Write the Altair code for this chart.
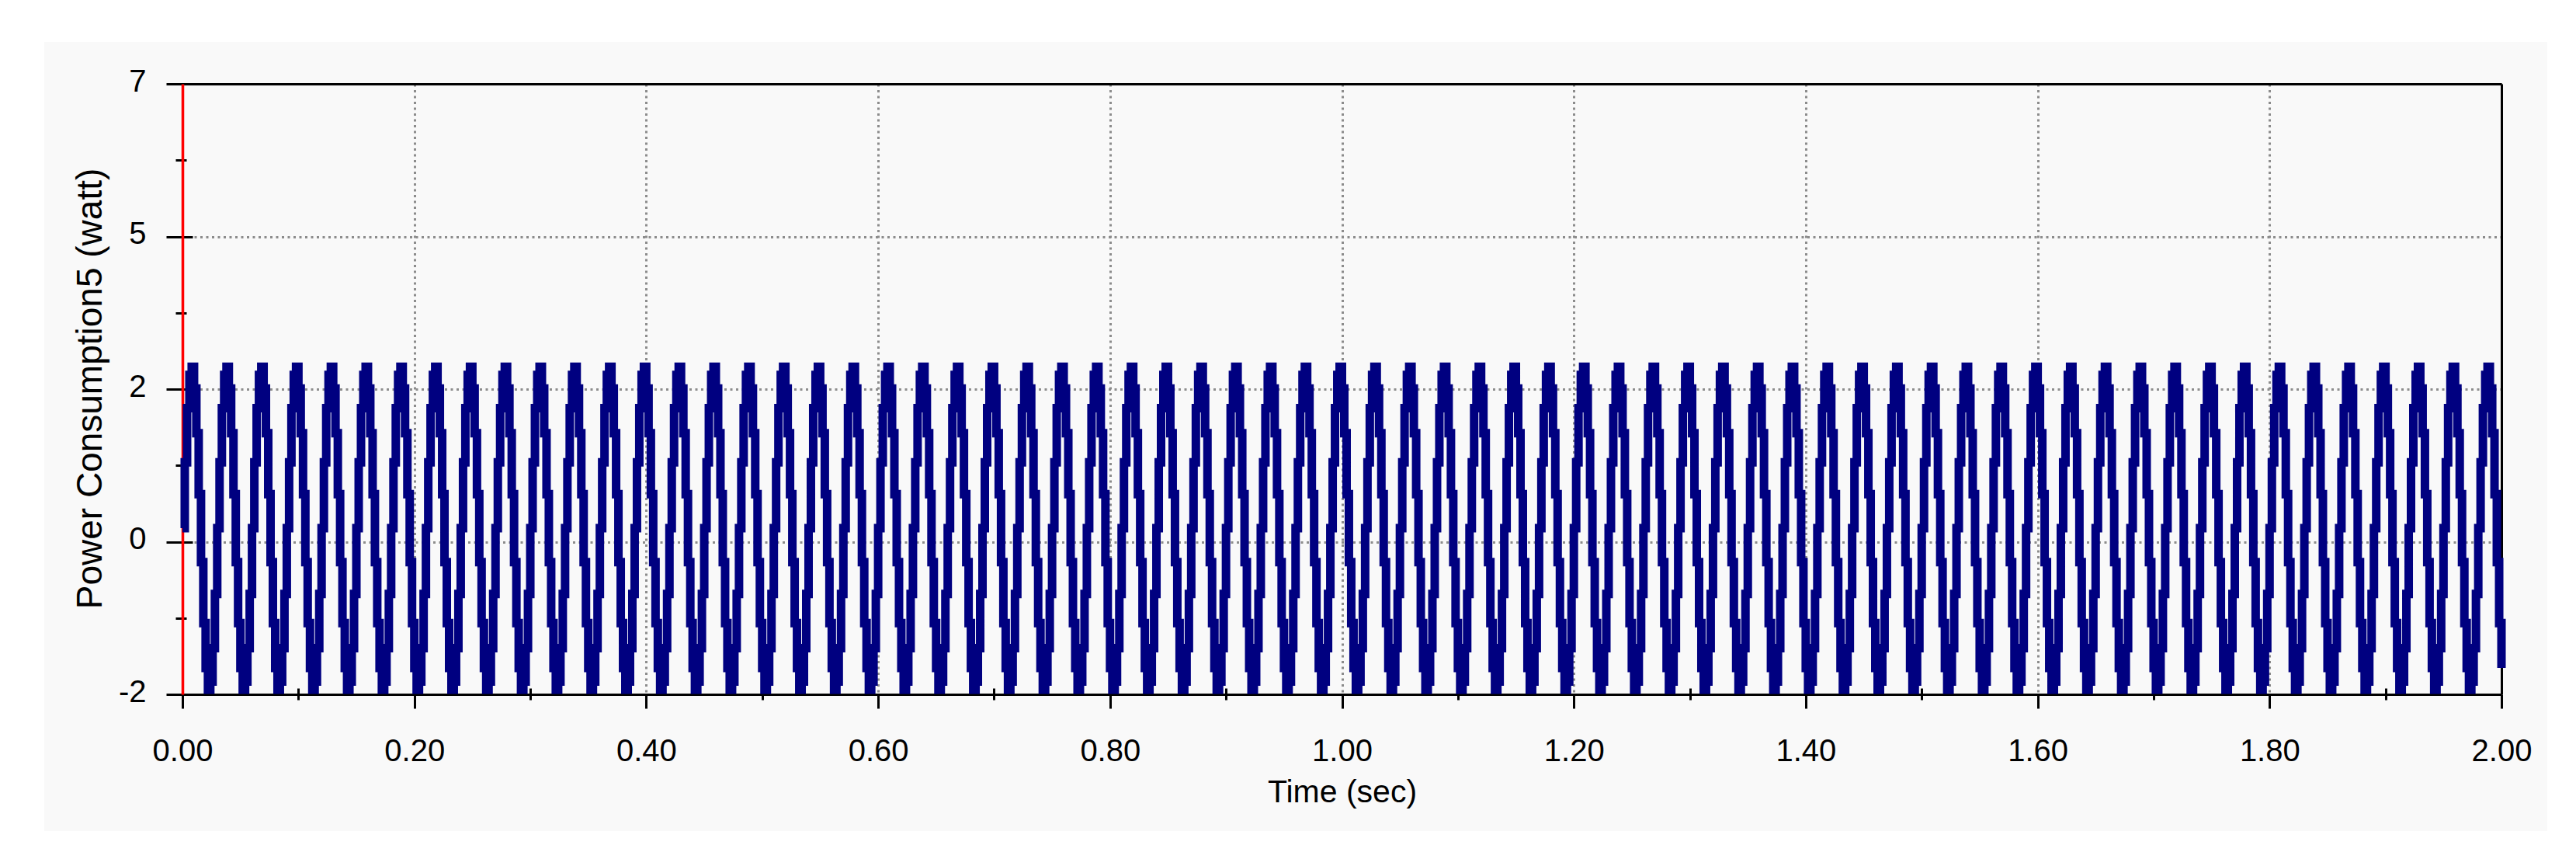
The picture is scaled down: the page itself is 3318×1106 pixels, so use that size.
import altair as alt
import pandas as pd

# ---- data ----
sample_step = 0.002          # seconds between held samples
n_samples = 1001             # 0.000 ... 2.000 s
# one 0.03 s cycle of the held power levels (watt)
cycle_levels = [0.45, 1.42, 2.22, 2.71, 2.83, 2.51, 1.85, 0.95,
                -0.05, -0.95, -1.61, -1.93, -1.81, -1.32, -0.52]

x_major = [0.0, 0.2, 0.4, 0.6, 0.8, 1.0, 1.2, 1.4, 1.6, 1.8, 2.0]
x_minor = [0.1, 0.3, 0.5, 0.7, 0.9, 1.1, 1.3, 1.5, 1.7, 1.9]
y_major = [-2, 0.25, 2.5, 4.75, 7]
y_labels = ["-2", "0", "2", "5", "7"]
y_minor = [-0.875, 1.375, 3.625, 5.875]

times = [round(i * sample_step, 3) for i in range(n_samples)]
power = [cycle_levels[i % len(cycle_levels)] for i in range(n_samples)]
df = pd.DataFrame({"t": times, "p": power})

label_expr = " : ".join(
    f"datum.value == {v} ? '{l}'" for v, l in zip(y_major, y_labels)
) + " : ''"

FONT = "Liberation Sans"
W, H = 2987, 786
xs = alt.Scale(domain=[0, 2], nice=False, zero=False)
ys = alt.Scale(domain=[-2, 7], nice=False, zero=False)

base = alt.Chart(df)


def blank_axis(orient, **kw):
    d = dict(orient=orient, title="", labels=False, ticks=False,
             domain=False, grid=False)
    d.update(kw)
    return alt.Axis(**d)


# grids
grid_layer = base.mark_line(strokeOpacity=0).encode(
    x=alt.X("t:Q", scale=xs, axis=blank_axis(
        "bottom", values=x_major, grid=True, gridColor="#8c8c8c",
        gridDash=[3, 4.5], gridWidth=3)),
    y=alt.Y("p:Q", scale=ys, axis=blank_axis(
        "left", values=y_major, grid=True, gridColor="#8c8c8c",
        gridDash=[3, 4.5], gridWidth=3)),
)

# minor ticks (crossing the axis lines)
minor_layer = base.mark_line(strokeOpacity=0).encode(
    x=alt.X("t:Q", scale=xs, axis=blank_axis(
        "bottom", values=x_minor, ticks=True, tickSize=15, tickWidth=3,
        tickColor="black", offset=-8)),
    y=alt.Y("p:Q", scale=ys, axis=blank_axis(
        "left", values=y_minor, ticks=True, tickSize=14, tickWidth=3,
        tickColor="black", offset=-5)),
)

# top frame + y major crossing ticks
frame_layer = base.mark_line(strokeOpacity=0).encode(
    x=alt.X("t:Q", scale=xs, axis=blank_axis(
        "top", values=x_major, domain=True, domainColor="black",
        domainWidth=3)),
    y=alt.Y("p:Q", scale=ys, axis=blank_axis(
        "left", values=y_major, ticks=True, tickSize=34, tickWidth=3,
        tickColor="black", offset=-13)),
)

# bottom axis with labels + right frame
bottom_layer = base.mark_line(strokeOpacity=0).encode(
    x=alt.X("t:Q", scale=xs, axis=alt.Axis(
        orient="bottom", values=x_major, format=".2f", grid=False,
        domain=True, domainColor="black", domainWidth=3,
        ticks=True, tickSize=18, tickWidth=3, tickColor="black",
        labels=True, labelFont=FONT, labelFontSize=40, labelColor="black",
        labelBaseline="alphabetic", labelPadding=67, labelFlush=False,
        labelOverlap=False,
        title="Time (sec)", titleFont=FONT, titleFontSize=41,
        titleFontWeight="normal", titleColor="black",
        titleBaseline="alphabetic", titleY=138)),
    y=alt.Y("p:Q", scale=ys, axis=blank_axis(
        "right", values=y_major, domain=True, domainColor="black",
        domainWidth=3)),
)

# signal with the red left axis and y labels
line_layer = base.mark_line(
    color="#000080", strokeWidth=11, interpolate="step-after",
    strokeJoin="miter", strokeCap="butt"
).encode(
    x=alt.X("t:Q", scale=xs, axis=None),
    y=alt.Y("p:Q", scale=ys, axis=alt.Axis(
        orient="left", values=y_major, labelExpr=label_expr, grid=False,
        domain=True, domainColor="#ff0000", domainWidth=3.5,
        ticks=True, tickSize=0, tickColor="black",
        labels=True, labelFont=FONT, labelFontSize=40, labelColor="black",
        labelPadding=47, labelFlush=False, labelOverlap=False,
        labelOffset=-3,
        title="Power Consumption5 (watt)",
        titleFont=FONT, titleFontSize=46,
        titleFontWeight="normal", titleColor="black",
        titleBaseline="alphabetic", titleX=-105, titleY=392,
        titleAngle=270)),
)

# white page border around the light panel
one = alt.Data(values=[{"k": 0}])
def white(x1, x2, y1, y2):
    return alt.Chart(one).mark_rect(color="white").encode(
        x=alt.value(x1), x2=alt.value(x2), y=alt.value(y1), y2=alt.value(y2))

borders = [
    white(-240, -178, -120, 1000),
    white(-240, 3120, -120, -54),
    white(3046, 3120, -120, 1000),
    white(-240, 3120, 962, 1000),
]

chart = alt.layer(
    grid_layer, minor_layer, frame_layer, bottom_layer, line_layer, *borders
).resolve_axis(x="independent", y="independent").properties(
    width=W, height=H,
    autosize=alt.AutoSizeParams(type="none"),
    padding={"left": 227, "top": 100, "right": 80, "bottom": 190},
).configure(background="#f9f9f9").configure_view(stroke="transparent")

chart.save("out.html", embed_options={"renderer": "svg", "actions": False})
